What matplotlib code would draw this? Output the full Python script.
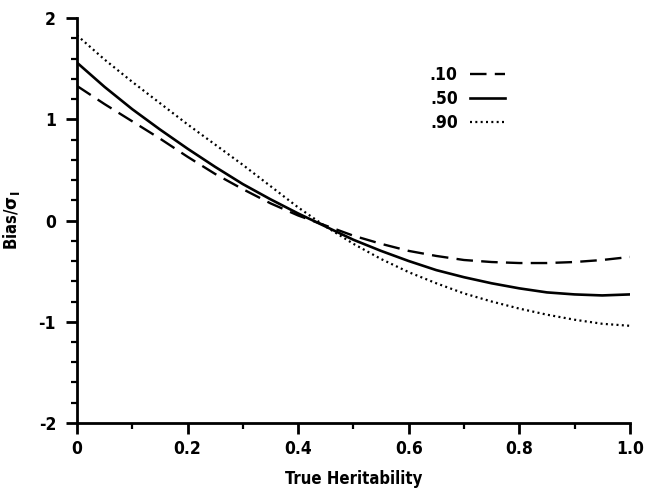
import matplotlib
matplotlib.use("Agg")
from matplotlib import pyplot as plt
from matplotlib.ticker import MultipleLocator

heritability = [0.0, 0.05, 0.10, 0.15, 0.20, 0.25, 0.30, 0.35, 0.40, 0.45, 0.50,
                0.55, 0.60, 0.65, 0.70, 0.75, 0.80, 0.85, 0.90, 0.95, 1.0]
bias_10 = [1.33, 1.15, 0.98, 0.81, 0.63, 0.46, 0.31, 0.17, 0.05, -0.05, -0.15,
           -0.23, -0.30, -0.35, -0.39, -0.41, -0.42, -0.42, -0.41, -0.39, -0.36]
bias_50 = [1.56, 1.32, 1.10, 0.90, 0.71, 0.53, 0.36, 0.21, 0.07, -0.06, -0.19,
           -0.30, -0.40, -0.49, -0.56, -0.62, -0.67, -0.71, -0.73, -0.74, -0.73]
bias_90 = [1.83, 1.59, 1.37, 1.16, 0.95, 0.75, 0.55, 0.34, 0.13, -0.06, -0.23,
           -0.38, -0.51, -0.62, -0.72, -0.80, -0.87, -0.93, -0.98, -1.02, -1.04]
series_labels = [".10", ".50", ".90"]

x_ticks = [0, 0.2, 0.4, 0.6, 0.8, 1.0]
x_tick_labels = ["0", "0.2", "0.4", "0.6", "0.8", "1.0"]
y_ticks = [-2, -1, 0, 1, 2]
y_tick_labels = ["-2", "-1", "0", "1", "2"]

# condensed bold, close to the typewriter-ish labels of the original
fp = dict(family="DejaVu Sans", weight="bold", stretch="condensed")

fig = plt.figure(figsize=(6.52, 4.95), dpi=100)
ax = fig.add_axes([0.118, 0.1455, 0.848, 0.818])

ax.plot(heritability, bias_10, color="black", lw=1.7, linestyle=(0, (7, 3.5)), label=series_labels[0])
ax.plot(heritability, bias_50, color="black", lw=1.9, linestyle="-", label=series_labels[1])
ax.plot(heritability, bias_90, color="black", lw=1.6, linestyle=(0, (0.9, 1.5)), label=series_labels[2])

ax.set_xlim(0, 1.0)
ax.set_ylim(-2, 2)
ax.set_xticks(x_ticks)
ax.set_xticklabels(x_tick_labels, fontdict=dict(fp, size=12.5))
ax.set_yticks(y_ticks)
ax.set_yticklabels(y_tick_labels, fontdict=dict(fp, size=12.5))
ax.xaxis.set_minor_locator(MultipleLocator(0.1))
ax.yaxis.set_minor_locator(MultipleLocator(0.2))

for side in ["top", "right"]:
    ax.spines[side].set_visible(False)
for side in ["left", "bottom"]:
    ax.spines[side].set_linewidth(2)

ax.tick_params(axis="both", which="major", direction="out", length=8, width=2)
ax.tick_params(axis="both", which="minor", direction="out", length=4, width=1.6)
ax.tick_params(axis="y", which="major", pad=7)
ax.tick_params(axis="x", which="major", pad=4)

ax.set_xlabel("True Heritability", fontdict=dict(fp, size=12), labelpad=9)
ax.set_ylabel(r"Bias/$\mathbf{\sigma_I}$", fontdict=dict(fp, size=12), labelpad=12)

leg = ax.legend(loc="upper left", bbox_to_anchor=(0.61, 0.92), frameon=False,
                markerfirst=False, handlelength=2.0, handletextpad=0.7,
                labelspacing=0.35, prop=dict(fp, size=12.5))

fig.savefig("out.png", dpi=100)
